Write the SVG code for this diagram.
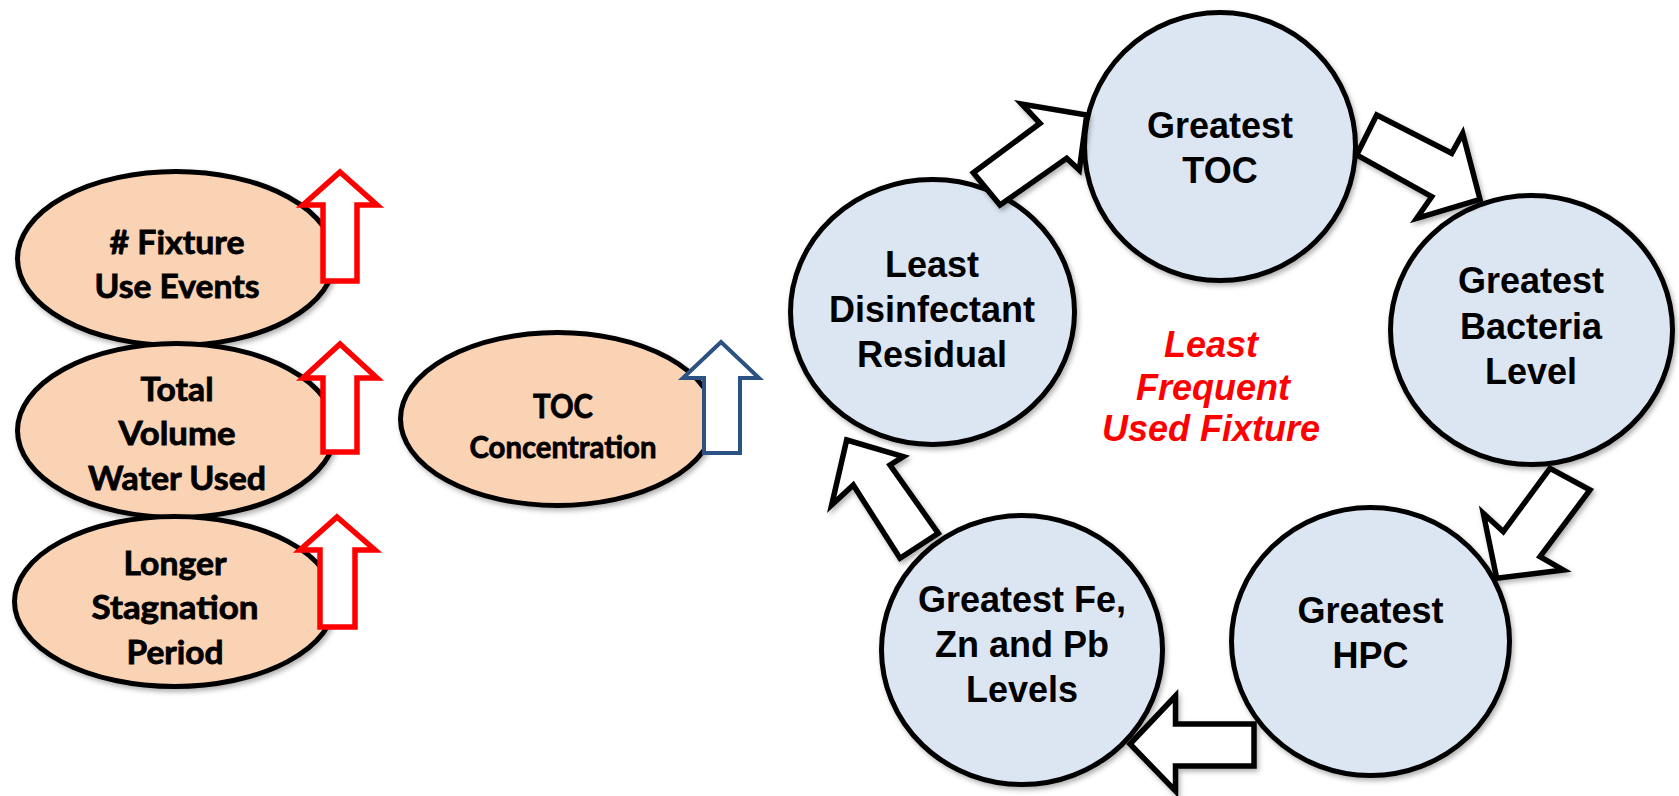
<svg xmlns="http://www.w3.org/2000/svg" width="1679" height="796" viewBox="0 0 1679 796">
<defs>
<filter id="sh" x="-10%" y="-10%" width="125%" height="125%">
<feDropShadow dx="2" dy="3" stdDeviation="2.5" flood-color="#000" flood-opacity="0.3"/>
</filter>
<style>
.peach{fill:#FAD3B4;stroke:#000;stroke-width:5;filter:url(#sh)}
.blue{fill:#DCE6F2;stroke:#000;stroke-width:5;filter:url(#sh)}
.red{fill:#fff;stroke:#FF0000;stroke-width:5.5;stroke-linejoin:miter;stroke-miterlimit:10}
.navy{fill:#fff;stroke:#2C5183;stroke-width:4;stroke-linejoin:miter;stroke-miterlimit:10}
.blk{fill:#fff;stroke:#000;stroke-width:5.5;stroke-linejoin:miter;stroke-miterlimit:10;filter:url(#sh)}
.lt{font-family:Lato,"Open Sans",sans-serif;font-weight:bold;font-size:32px;fill:#000;stroke:#000;stroke-width:0.8;text-anchor:middle}
.rt{font-family:"Liberation Sans",Arial,sans-serif;font-weight:bold;font-size:36px;fill:#000;text-anchor:middle}
.it{font-family:"Liberation Sans",Arial,sans-serif;font-weight:bold;font-style:italic;font-size:36px;fill:#FF0000;text-anchor:middle}
</style>
</defs>
<rect width="1679" height="796" fill="#fff"/>

<g id="node-fixture-use">
<ellipse class="peach" cx="176" cy="258.5" rx="158.5" ry="87"/>
<text class="lt" x="177" y="253.5" textLength="135" lengthAdjust="spacingAndGlyphs"># Fixture</text>
<text class="lt" x="177" y="297.5" textLength="165" lengthAdjust="spacingAndGlyphs">Use Events</text>
<path class="red" d="M340,172 L377,205 L357,205 L357,281 L323,281 L323,205 L303,205 Z"/>
</g>

<g id="node-total-volume">
<ellipse class="peach" cx="176.5" cy="430.5" rx="159" ry="87"/>
<text class="lt" x="177" y="401" textLength="73" lengthAdjust="spacingAndGlyphs">Total</text>
<text class="lt" x="177" y="445" textLength="117" lengthAdjust="spacingAndGlyphs">Volume</text>
<text class="lt" x="177" y="490" textLength="178" lengthAdjust="spacingAndGlyphs">Water Used</text>
<path class="red" d="M340,344 L377,378 L357,378 L357,452 L323,452 L323,378 L303,378 Z"/>
</g>

<g id="node-stagnation">
<ellipse class="peach" cx="174.5" cy="601.5" rx="160" ry="85"/>
<text class="lt" x="175" y="574.5" textLength="103" lengthAdjust="spacingAndGlyphs">Longer</text>
<text class="lt" x="175" y="618.5" textLength="167" lengthAdjust="spacingAndGlyphs">Stagnation</text>
<text class="lt" x="175" y="664" textLength="97" lengthAdjust="spacingAndGlyphs">Period</text>
<path class="red" d="M337,517 L375,550 L355,550 L355,627 L320,627 L320,550 L300,550 Z"/>
</g>

<g id="node-toc-concentration">
<ellipse class="peach" cx="557.5" cy="419" rx="157" ry="86.5"/>
<text class="lt" x="563" y="418" textLength="60" lengthAdjust="spacingAndGlyphs">TOC</text>
<text class="lt" x="563" y="458" style="font-size:30px" textLength="187" lengthAdjust="spacingAndGlyphs">Concentration</text>
<path class="navy" d="M721,342 L759,378 L740,378 L740,453 L704,453 L704,378 L683,378 Z"/>
</g>

<g id="node-greatest-toc">
<ellipse class="blue" cx="1220" cy="146.5" rx="135.5" ry="134"/>
<text class="rt" x="1220" y="138">Greatest</text>
<text class="rt" x="1220" y="183">TOC</text>
</g>

<g id="node-bacteria">
<ellipse class="blue" cx="1531.5" cy="330" rx="141" ry="134.5"/>
<text class="rt" x="1531" y="293">Greatest</text>
<text class="rt" x="1531" y="339">Bacteria</text>
<text class="rt" x="1531" y="384">Level</text>
</g>

<g id="node-hpc">
<ellipse class="blue" cx="1370.5" cy="641.5" rx="139" ry="134"/>
<text class="rt" x="1370.5" y="623">Greatest</text>
<text class="rt" x="1370.5" y="668">HPC</text>
</g>

<g id="node-metals">
<ellipse class="blue" cx="1022" cy="650" rx="140.5" ry="134.5"/>
<text class="rt" x="1022" y="612">Greatest Fe,</text>
<text class="rt" x="1022" y="657">Zn and Pb</text>
<text class="rt" x="1022" y="702">Levels</text>
</g>

<g id="node-disinfectant">
<ellipse class="blue" cx="932.5" cy="312" rx="142" ry="132.5"/>
<text class="rt" x="932" y="277">Least</text>
<text class="rt" x="932" y="322">Disinfectant</text>
<text class="rt" x="932" y="367">Residual</text>
</g>

<g id="center-label">
<text class="it" x="1211" y="357">Least</text>
<text class="it" x="1213" y="400">Frequent</text>
<text class="it" x="1211" y="441">Used Fixture</text>
</g>

<g id="connectors">
<path class="blk" d="M973.3,172.7 L1000,205 L1066.7,158.3 L1079.3,170 L1086.7,115 L1021.7,104 L1040,123.3 Z"/>
<path class="blk" d="M1376.7,115 L1451.7,153.3 L1462.7,133.3 L1480,199.3 L1416.7,218.3 L1431.7,196.7 L1356.7,155 Z"/>
<path class="blk" d="M1550,468.3 L1590,490 L1540,556.7 L1563.3,570 L1496.7,578.3 L1483.3,513.3 L1503.3,531.7 Z"/>
<path class="blk" d="M1130,744 L1175.5,696 L1175.5,724 L1254,724 L1254,766 L1175.5,766 L1175.5,791 Z"/>
<path class="blk" d="M846.7,440 L903.3,456.7 L890,465 L938.3,533.3 L900,558.3 L853.3,485 L831.7,505 Z"/>
</g>
</svg>
